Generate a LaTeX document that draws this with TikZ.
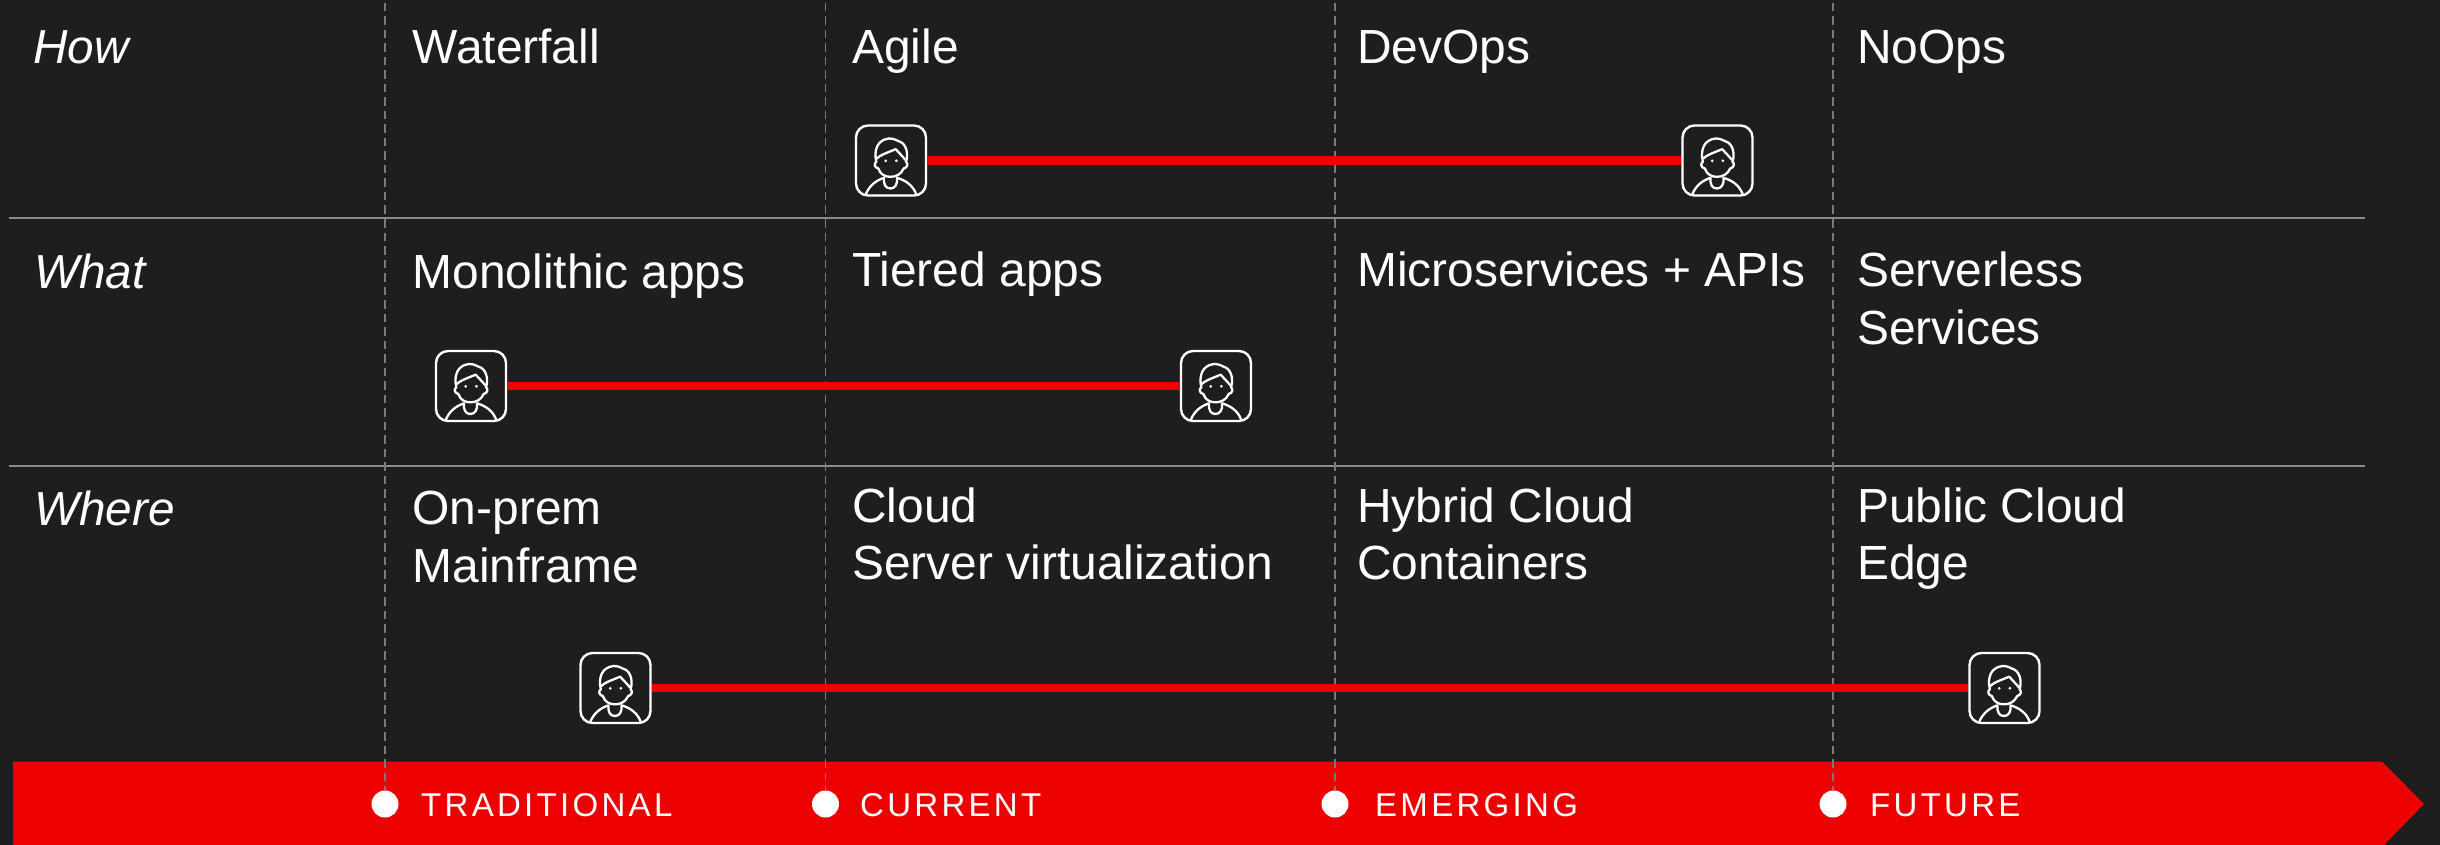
\documentclass[tikz,border=0pt]{standalone}
\usepackage{fontspec}
\setmainfont{Liberation Sans}
\newfontfamily\spacedfont[LetterSpace=10]{Liberation Sans}
\definecolor{bgdark}{HTML}{1E1E1E}
\definecolor{barred}{HTML}{EC0000}
\definecolor{gridgrey}{HTML}{8A8A8A}
\definecolor{dashgrey}{HTML}{7A7A7A}
\tikzset{
  x=1pt,y=-1pt,
  celltext/.style={anchor=base west,inner sep=0pt,text=white,align=left,font=\fontsize{47.9}{57.3}\selectfont},
  rowhead/.style={anchor=base west,inner sep=0pt,text=white,font=\fontsize{47.7}{57.3}\selectfont\itshape},
  rowrule/.style={draw=gridgrey,line width=1.6pt},
  phaserule/.style={draw=dashgrey,line width=1.5pt,dash pattern=on 8.5pt off 5pt},
  phasedot/.style={circle,fill=white,inner sep=0pt,minimum size=27pt},
  phaselabel/.style={anchor=base west,inner sep=0pt,text=white,font=\fontsize{33}{40}\selectfont\spacedfont},
  avatarbox/.style={draw=white,line width=2.4pt,rounded corners=12pt,minimum size=70pt,inner sep=0pt,fill=bgdark},
  avatarline/.style={draw=white,line width=2.3pt,line cap=round,line join=round},
  avatarspan/.style={draw=barred,line width=8.2pt},
}
\newcommand{\avatarat}[2]{%
  \node[avatarbox] (#1) at (#2) {};
  \begin{scope}[shift={(#1.center)},x=0.3333pt,y=-0.3333pt]
    \draw[avatarline] (-76,102) .. controls (-65,75) and (-45,60) .. (-21,52) .. controls (-23,72) and (-16,84) .. (-2,84) .. controls (12,84) and (20,72) .. (18,52) .. controls (45,60) and (66,75) .. (76,102);
    \draw[avatarline] (-38,24) .. controls (-32,42) and (-18,49) .. (-2,49) .. controls (15,49) and (30,42) .. (38,24);
    \draw[avatarline] (-38,24) .. controls (-50,22) and (-52,8) .. (-44,4) .. controls (-52,-30) and (-42,-62) .. (-6,-66) .. controls (10,-67) and (20,-58) .. (30,-55) .. controls (48,-45) and (52,-15) .. (45,4) .. controls (52,8) and (50,22) .. (38,24);
    \draw[avatarline] (-42,-6) .. controls (-35,-15) and (-20,-20) .. (14,-34) .. controls (25,-22) and (35,-12) .. (43,-2);
    \fill[white] (-16,1) circle[radius=4.5] (16,1) circle[radius=4.5];
  \end{scope}}
\begin{document}
\begin{tikzpicture}
\useasboundingbox (0,0) rectangle (2440,845);
\fill[bgdark] (0,0) rectangle (2440,845);
\fill[barred] (13,761.5) -- (2382,761.5) -- (2424,804) -- (2383,846) -- (13,846) -- cycle;
\draw[rowrule] (9,218) -- (2365,218);
\draw[rowrule] (9,466) -- (2365,466);
\node[phasedot] (d1) at (385,804) {};
\node[phasedot] (d2) at (825.5,804) {};
\node[phasedot] (d3) at (1335,804) {};
\node[phasedot] (d4) at (1833,804) {};
\coordinate (t1) at (385,3);
\coordinate (t2) at (825.5,3);
\coordinate (t3) at (1335,3);
\coordinate (t4) at (1833,3);
\draw[phaserule] (t1) -- (d1);
\draw[phaserule] (t2) -- (d2);
\draw[phaserule] (t3) -- (d3);
\draw[phaserule] (t4) -- (d4);
\node[phaselabel] (l1) at (421,816) {TRADITIONAL};
\node[phaselabel] (l2) at (860,816) {CURRENT};
\node[phaselabel] (l3) at (1375,816) {EMERGING};
\node[phaselabel] (l4) at (1870,816) {FUTURE};
\node[rowhead] (how) at (33,63.3) {How};
\node[rowhead] (what) at (34,288.7) {What};
\node[rowhead] (where) at (34,525) {Where};
\node[celltext] (c11) at (412.5,63.3) {Waterfall};
\node[celltext] (c12) at (852,63.3) {Agile};
\node[celltext] (c13) at (1357,63.3) {DevOps};
\node[celltext] (c14) at (1857,63.3) {NoOps};
\node[celltext] (c21) at (412.5,288.7) {Monolithic apps};
\node[celltext] (c22) at (852,286.7) {Tiered apps};
\node[celltext] (c23) at (1357,286.7) {Microservices + APIs};
\node[celltext] (c24) at (1857,344) {Serverless\\Services};
\node[celltext] (c31) at (412.5,582) {On-prem\\Mainframe};
\node[celltext] (c32) at (852,579.5) {Cloud\\Server virtualization};
\node[celltext] (c33) at (1357,579.5) {Hybrid Cloud\\Containers};
\node[celltext] (c34) at (1857,579.5) {Public Cloud\\Edge};
\avatarat{a1}{891,160.5}
\avatarat{a2}{1717.5,160.5}
\avatarat{b1}{471,386}
\avatarat{b2}{1216,386}
\avatarat{e1}{615.5,688}
\avatarat{e2}{2004.5,688}
\draw[avatarspan] (a1) -- (a2);
\draw[avatarspan] (b1) -- (b2);
\draw[avatarspan] (e1) -- (e2);
\end{tikzpicture}
\end{document}
